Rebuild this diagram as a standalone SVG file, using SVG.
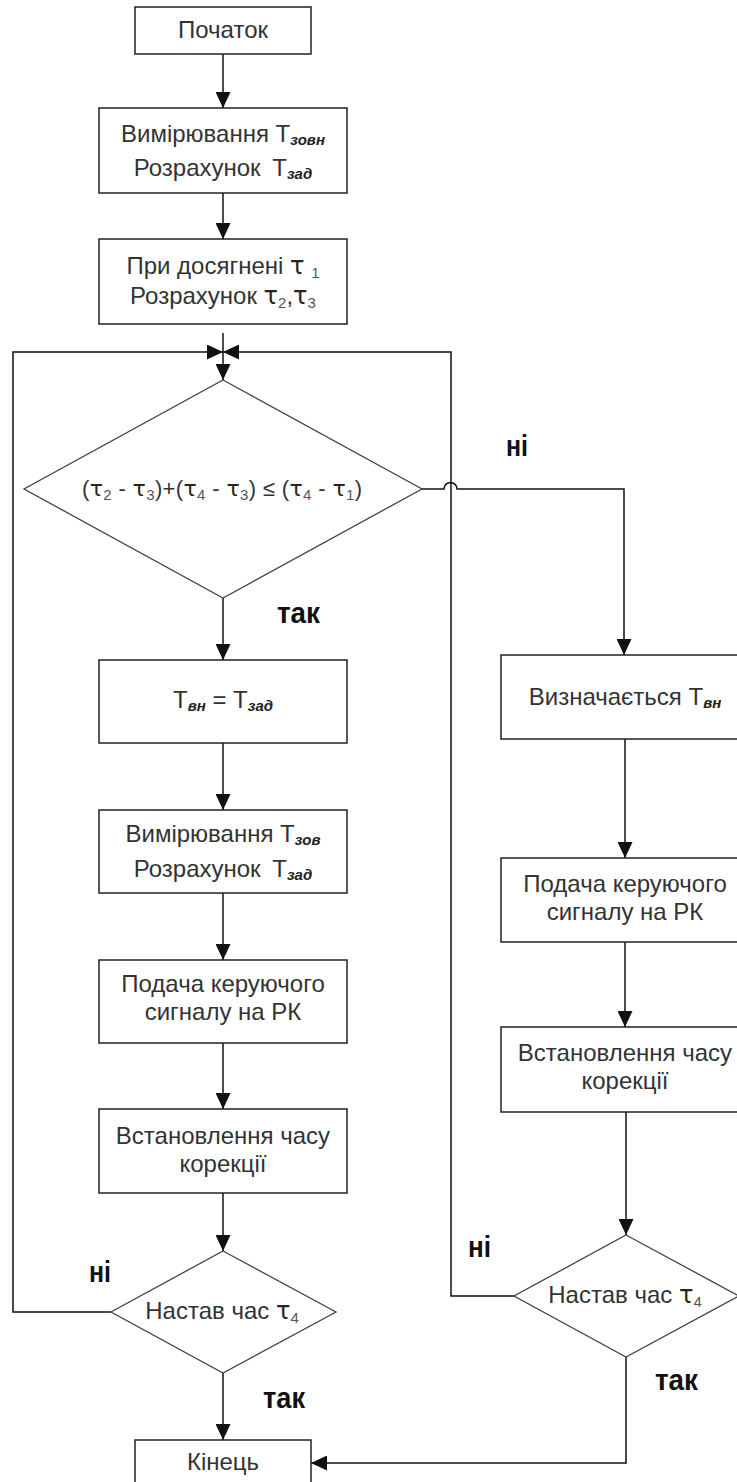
<svg xmlns="http://www.w3.org/2000/svg" width="737" height="1482" viewBox="0 0 737 1482">
<defs>
<marker id="ah" markerUnits="userSpaceOnUse" markerWidth="16" markerHeight="15" refX="16" refY="7.5" orient="auto"><path d="M0,0 L16,7.5 L0,15 Z" fill="#111"/></marker>
<style>
.box{fill:#fff;stroke:#222;stroke-width:1.5}
.dia{fill:#fff;stroke:#444;stroke-width:1.3}
.c{fill:none;stroke:#111;stroke-width:1.5;marker-end:url(#ah)}
.t{font-family:"Liberation Sans",Arial,sans-serif;font-size:24px;fill:#333;text-anchor:middle}
.sub{font-size:15px;font-weight:bold;font-style:italic;fill:#222}
.num{font-size:15px;fill:#555}
.tau{font-family:"DejaVu Sans",sans-serif;fill:#2b2418}
.lbl{font-family:"Liberation Sans",Arial,sans-serif;font-size:30px;font-weight:bold;fill:#111}
</style>
</defs>
<rect width="737" height="1482" fill="#fff"/>
<g id="connectors">
<path class="c" d="M223,54 V108"/>
<path class="c" d="M223,193 V239"/>
<path class="c" d="M223,333 V380"/>
<path class="c" d="M112,1312 H13 V352 H223"/>
<path class="c" d="M514,1296 H451 V352 H223"/>
<path class="c" d="M422,489 H444 A6.5,6.5 0 0 1 457,489 H624 V655"/>
<path class="c" d="M223,598 V660"/>
<path class="c" d="M223,743 V810"/>
<path class="c" d="M223,893 V960"/>
<path class="c" d="M223,1043 V1109"/>
<path class="c" d="M223,1193 V1251"/>
<path class="c" d="M223,1373 V1440"/>
<path class="c" d="M625,739 V858"/>
<path class="c" d="M625,942 V1027"/>
<path class="c" d="M626,1112 V1235"/>
<path class="c" d="M626,1357 V1463 H311"/>
</g>
<g id="start">
<rect class="box" x="135" y="7" width="176" height="47"/>
<text class="t" x="223" y="38">Початок</text>
</g>
<g id="measure1">
<rect class="box" x="99" y="108" width="248" height="85"/>
<text class="t" x="223" y="142">Вимірювання Т<tspan class="sub" dy="3">зовн</tspan></text>
<text class="t" x="223" y="176">Розрахунок <tspan dx="5">Т</tspan><tspan class="sub" dy="3">зад</tspan></text>
</g>
<g id="tau1">
<rect class="box" x="99" y="239" width="248" height="85"/>
<text class="t" x="223" y="274">При досягнені <tspan class="tau">τ</tspan> <tspan class="num" dy="4">1</tspan></text>
<text class="t" x="223" y="304">Розрахунок <tspan class="tau">τ</tspan><tspan class="num" dy="4">2</tspan><tspan dy="-4">,</tspan><tspan class="tau">τ</tspan><tspan class="num" dy="4">3</tspan></text>
</g>
<g id="cond">
<polygon class="dia" points="223,380 422,489 223,598 24,489"/>
<text class="t" x="222" y="496" style="font-size:22px" textLength="280" lengthAdjust="spacing">(<tspan class="tau">τ</tspan><tspan class="num" dy="4">2</tspan><tspan dy="-4"> - </tspan><tspan class="tau">τ</tspan><tspan class="num" dy="4">3</tspan><tspan dy="-4">)+(</tspan><tspan class="tau">τ</tspan><tspan class="num" dy="4">4</tspan><tspan dy="-4"> - </tspan><tspan class="tau">τ</tspan><tspan class="num" dy="4">3</tspan><tspan dy="-4">) ≤ (</tspan><tspan class="tau">τ</tspan><tspan class="num" dy="4">4</tspan><tspan dy="-4"> - </tspan><tspan class="tau">τ</tspan><tspan class="num" dy="4">1</tspan><tspan dy="-4">)</tspan></text>
</g>
<g id="set">
<rect class="box" x="99" y="660" width="248" height="83"/>
<text class="t" x="223" y="708">Т<tspan class="sub" dy="3">вн</tspan><tspan dy="-3"> = Т</tspan><tspan class="sub" dy="3">зад</tspan></text>
</g>
<g id="measure2">
<rect class="box" x="99" y="810" width="248" height="83"/>
<text class="t" x="223" y="842">Вимірювання Т<tspan class="sub" dy="3">зов</tspan></text>
<text class="t" x="223" y="877">Розрахунок <tspan dx="5">Т</tspan><tspan class="sub" dy="3">зад</tspan></text>
</g>
<g id="signal1">
<rect class="box" x="99" y="960" width="248" height="83"/>
<text class="t" x="223" y="992">Подача керуючого</text>
<text class="t" x="223" y="1020">сигналу на РК</text>
</g>
<g id="corr1">
<rect class="box" x="99" y="1109" width="248" height="84"/>
<text class="t" x="223" y="1144">Встановлення часу</text>
<text class="t" x="223" y="1172">корекції</text>
</g>
<g id="check1">
<polygon class="dia" points="223,1251 336,1312 223,1373 111,1312"/>
<text class="t" x="222" y="1319">Настав час <tspan class="tau">τ</tspan><tspan class="num" dy="4">4</tspan></text>
</g>
<g id="end">
<rect class="box" x="135" y="1440" width="176" height="47"/>
<text class="t" x="223" y="1470">Кінець</text>
</g>
<g id="define">
<rect class="box" x="501" y="655" width="248" height="84"/>
<text class="t" x="625" y="705">Визначається Т<tspan class="sub" dy="3">вн</tspan></text>
</g>
<g id="signal2">
<rect class="box" x="501" y="858" width="248" height="84"/>
<text class="t" x="625" y="892">Подача керуючого</text>
<text class="t" x="625" y="920">сигналу на РК</text>
</g>
<g id="corr2">
<rect class="box" x="501" y="1027" width="248" height="85"/>
<text class="t" x="625" y="1061">Встановлення часу</text>
<text class="t" x="625" y="1089">корекції</text>
</g>
<g id="check2">
<polygon class="dia" points="626,1235 739,1296 626,1357 514,1296"/>
<text class="t" x="625" y="1303">Настав час <tspan class="tau">τ</tspan><tspan class="num" dy="4">4</tspan></text>
</g>
<g id="labels">
<text class="lbl" x="506" y="456" textLength="22" lengthAdjust="spacingAndGlyphs">ні</text>
<text class="lbl" x="277" y="623" textLength="43" lengthAdjust="spacingAndGlyphs">так</text>
<text class="lbl" x="89" y="1282" textLength="22" lengthAdjust="spacingAndGlyphs">ні</text>
<text class="lbl" x="468" y="1257" textLength="23" lengthAdjust="spacingAndGlyphs">ні</text>
<text class="lbl" x="263" y="1408" textLength="42" lengthAdjust="spacingAndGlyphs">так</text>
<text class="lbl" x="655" y="1390" textLength="43" lengthAdjust="spacingAndGlyphs">так</text>
</g>
</svg>
